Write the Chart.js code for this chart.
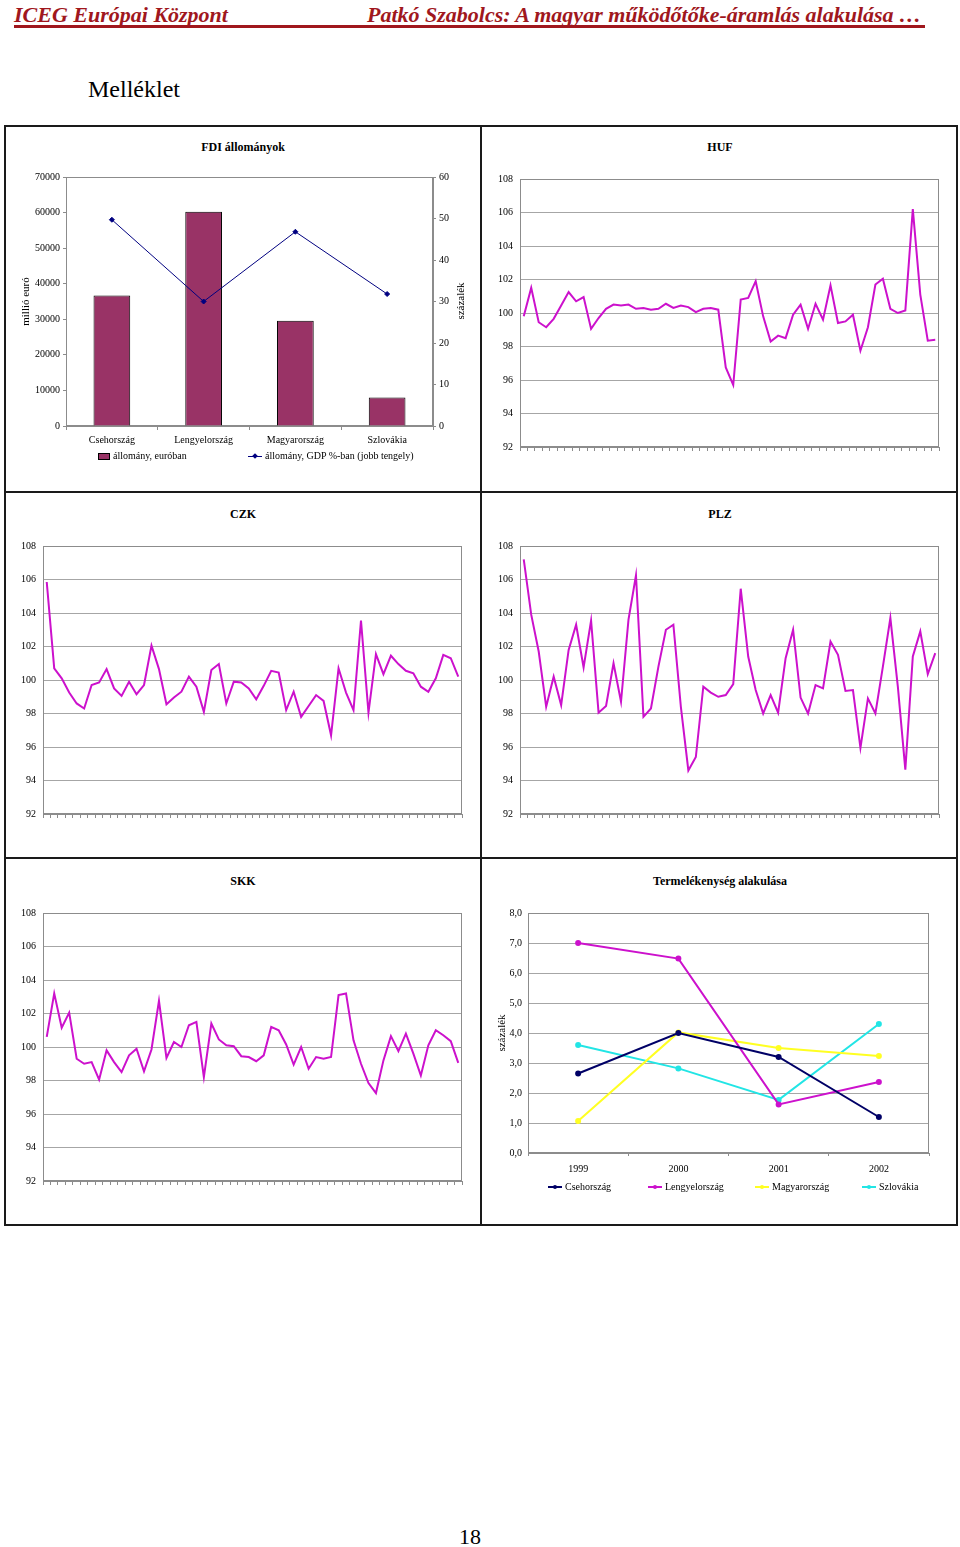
<!DOCTYPE html>
<html lang="hu">
<head>
<meta charset="utf-8">
<title>Melléklet</title>
<script src="https://cdn.jsdelivr.net/npm/chart.js@4.4.1/dist/chart.umd.min.js"></script>
<style>
  body { margin:0; width:960px; height:1547px; position:relative; overflow:hidden; background:#fff;
         font-family:"Liberation Serif", "DejaVu Serif", serif; color:#000; }
  .abs { position:absolute; white-space:nowrap; }
  .fejlec { top:4px; font-size:22px; line-height:22px; font-weight:bold; font-style:italic; color:#a0171d; }
  .fejvonal { left:14px; top:25px; width:911px; height:0; border-bottom:3px solid #a0171d; }
  .keret { left:4px; top:125px; width:954px; height:1101px; box-sizing:border-box; border:2px solid #1a1a1a; }
  .fv { left:480px; top:125px; width:2px; height:1101px; background:#1a1a1a; }
  .vv { left:4px; width:954px; height:2px; background:#1a1a1a; }
  .cim { font-size:12px; line-height:12px; font-weight:bold; width:474px; text-align:center; }
  .tengelycim { font-size:11px; line-height:12px; width:80px; text-align:center; transform:rotate(-90deg); }
  canvas { position:absolute; }
  .jel { font-size:10px; line-height:12px; display:flex; align-items:center; }
  .minta { position:relative; width:14px; height:12px; margin-right:3px; }
  .minta .vonal { position:absolute; left:0; top:5px; width:14px; height:2px; }
  .minta .pont { position:absolute; left:5px; top:4px; width:4px; height:4px; border-radius:2px; }
  .oszlopminta { width:12px; height:7px; border:1px solid #000; margin-right:3px; box-sizing:border-box; }
</style>
</head>
<body>

<div class="abs fejlec" style="left:14px">ICEG Európai Központ</div>
<div class="abs fejlec" style="left:367px">Patkó Szabolcs: A magyar működőtőke-áramlás alakulása …</div>
<div class="abs fejvonal"></div>
<div class="abs" style="left:88px; top:77px; font-size:24px; line-height:24px">Melléklet</div>

<div class="abs keret"></div>
<div class="abs fv"></div>
<div class="abs vv" style="top:491px"></div>
<div class="abs vv" style="top:857px"></div>

<div class="abs cim" style="left:6px; top:141px">FDI állományok</div>
<div class="abs cim" style="left:483px; top:141px">HUF</div>
<div class="abs cim" style="left:6px; top:508px">CZK</div>
<div class="abs cim" style="left:483px; top:508px">PLZ</div>
<div class="abs cim" style="left:6px; top:875px">SKK</div>
<div class="abs cim" style="left:483px; top:875px">Termelékenység alakulása</div>

<canvas id="chartFdi" width="474" height="364" style="left:6px; top:127px"></canvas>
<canvas id="chartHuf" width="474" height="364" style="left:483px; top:127px"></canvas>
<canvas id="chartCzk" width="474" height="364" style="left:6px; top:494px"></canvas>
<canvas id="chartPlz" width="474" height="364" style="left:483px; top:494px"></canvas>
<canvas id="chartSkk" width="474" height="364" style="left:6px; top:861px"></canvas>
<canvas id="chartTerm" width="474" height="364" style="left:483px; top:861px"></canvas>

<!-- jobb tengely címe: alulról felfelé olvasható, mint az eredetiben -->
<div class="abs tengelycim" style="left:420px; top:295px">százalék</div>

<div id="jelFdi"></div>
<div id="jelTerm"></div>

<div class="abs" style="left:459px; top:1526px; font-size:22px; line-height:22px">18</div>

<script>
//Adatok
//FDI állományok
const orszagok = ['Csehország', 'Lengyelország', 'Magyarország', 'Szlovákia'];
const fdiEuro = [36700, 60200, 29600, 8000];
const fdiGdp = [49.7, 30.0, 46.8, 31.8];

//Havi árfolyamindexek (56 hónap)
const honapok = Array.from({ length: 56 }, (_, i) => String(i + 1));
const hufIndex = [99.8, 101.5, 99.45, 99.15, 99.65, 100.45, 101.25, 100.7, 100.95, 99.05,
  99.7, 100.25, 100.5, 100.45, 100.5, 100.25, 100.3, 100.2, 100.25, 100.55,
  100.3, 100.45, 100.35, 100.05, 100.25, 100.3, 100.2, 96.75, 95.7, 100.8,
  100.9, 101.9, 99.8, 98.3, 98.65, 98.5, 99.9, 100.5, 99.05, 100.55,
  99.6, 101.65, 99.4, 99.5, 99.9, 97.75, 99.15, 101.7, 102.05, 100.25,
  100.0, 100.15, 106.2, 101.1, 98.35, 98.4];
const czkIndex = [105.85, 100.7, 100.1, 99.25, 98.6, 98.3, 99.7, 99.85, 100.65, 99.5,
  99.05, 99.9, 99.15, 99.7, 102.05, 100.65, 98.55, 98.95, 99.3, 100.2,
  99.6, 98.1, 100.6, 100.95, 98.6, 99.9, 99.85, 99.5, 98.85, 99.65,
  100.55, 100.45, 98.2, 99.3, 97.8, 98.45, 99.1, 98.75, 96.7, 100.7,
  99.25, 98.2, 103.55, 98.05, 101.55, 100.35, 101.45, 100.95, 100.55, 100.4,
  99.6, 99.3, 100.1, 101.5, 101.3, 100.2];
const plzIndex = [107.2, 103.9, 101.7, 98.4, 100.2, 98.5, 101.8, 103.3, 100.75, 103.55,
  98.05, 98.45, 101.0, 98.7, 103.6, 106.25, 97.8, 98.3, 100.8, 103.0,
  103.3, 98.4, 94.6, 95.4, 99.6, 99.25, 99.0, 99.1, 99.75, 105.45,
  101.4, 99.4, 98.0, 99.1, 98.05, 101.3, 103.0, 98.95, 98.0, 99.7,
  99.5, 102.3, 101.5, 99.35, 99.4, 95.95, 98.9, 98.0, 100.8, 103.7,
  99.6, 94.65, 101.4, 102.9, 100.35, 101.6];
const skkIndex = [100.6, 103.2, 101.15, 102.05, 99.3, 99.0, 99.1, 98.05, 99.8, 99.1,
  98.5, 99.5, 99.9, 98.55, 99.85, 102.75, 99.35, 100.3, 100.0, 101.3,
  101.5, 98.2, 101.4, 100.45, 100.1, 100.05, 99.45, 99.4, 99.15, 99.5,
  101.2, 101.0, 100.15, 98.95, 100.0, 98.7, 99.4, 99.3, 99.4, 103.1,
  103.2, 100.4, 99.0, 97.85, 97.25, 99.2, 100.65, 99.75, 100.8, 99.6,
  98.3, 100.1, 101.0, 100.7, 100.35, 99.05];
const indexTengely = [92, 108, 2];

//Termelékenység alakulása
const evek = ['1999', '2000', '2001', '2002'];
const termCseh = [2.65, 4.0, 3.2, 1.2];
const termLengyel = [7.0, 6.48, 1.62, 2.37];
const termMagyar = [1.07, 4.02, 3.5, 3.23];
const termSzlovak = [3.6, 2.82, 1.77, 4.3];
const termTengely = [0, 8, 1];

//Közös beállítások
const betu = { family: '"Liberation Serif", "DejaVu Serif", serif', size: 10 };
const cimBetu = { family: '"Liberation Serif", "DejaVu Serif", serif', size: 11 };
const racsSzin = '#a6a6a6';
const tengelySzin = '#8c8c8c';
const magenta = '#cc11cc';

//Szürke keret a rajzterület körül
const keret = {
    id: 'keret',
    beforeDatasetsDraw(chart) {
        const a = chart.chartArea;
        const ctx = chart.ctx;
        ctx.save();
        ctx.strokeStyle = tengelySzin;
        ctx.lineWidth = 1;
        ctx.strokeRect(Math.round(a.left) + 0.5, Math.round(a.top) + 0.5,
            Math.round(a.right - a.left) - 1, Math.round(a.bottom - a.top) - 1);
        ctx.restore();
    }
};

//FDI állományok: oszlop + vonal (jobb tengely)
new Chart(document.getElementById('chartFdi'), {
    type: 'bar',
    data: {
        labels: orszagok,
        datasets: [
            {
                type: 'line',
                label: 'állomány, GDP %-ban (jobb tengely)',
                data: fdiGdp,
                yAxisID: 'y1',
                borderColor: '#000080',
                backgroundColor: '#000080',
                borderWidth: 1,
                pointStyle: 'rectRot',
                pointRadius: 2.5,
                tension: 0,
                order: 0
            },
            {
                label: 'állomány, euróban',
                data: fdiEuro,
                yAxisID: 'y',
                backgroundColor: '#993366',
                borderColor: '#000',
                borderWidth: 1,
                barPercentage: 0.4,
                categoryPercentage: 1,
                order: 1
            }
        ]
    },
    options: {
        responsive: false,
        animation: false,
        layout: { padding: { left: 10, right: 10, top: 50, bottom: 45 } },
        plugins: { legend: { display: false }, tooltip: { enabled: false } },
        scales: {
            x: {
                offset: true,
                grid: { offset: true, drawOnChartArea: false, tickLength: 4, color: tengelySzin },
                border: { color: tengelySzin },
                ticks: { font: betu, color: '#000', padding: 4, maxRotation: 0 },
                afterFit: s => { s.height = 20; }
            },
            y: {
                position: 'left',
                min: 0, max: 70000,
                ticks: { stepSize: 10000, font: betu, color: '#000', padding: 3, callback: v => String(v) },
                grid: { drawOnChartArea: false, tickLength: 3, color: tengelySzin },
                border: { color: tengelySzin },
                title: { display: true, text: 'millió euró', font: cimBetu, color: '#000', padding: { top: 4, bottom: 0 } },
                afterFit: s => { s.width = 50; }
            },
            y1: {
                position: 'right',
                min: 0, max: 60,
                ticks: { stepSize: 10, font: betu, color: '#000', padding: 3 },
                grid: { drawOnChartArea: false, tickLength: 3, color: tengelySzin },
                border: { color: tengelySzin },
                afterFit: s => { s.width = 37; }
            }
        }
    },
    plugins: [keret]
});

//Árfolyamindex vonaldiagram
function rajzolIndex(id, adatok) {
    new Chart(document.getElementById(id), {
        type: 'line',
        data: {
            labels: honapok,
            datasets: [{
                data: adatok,
                borderColor: magenta,
                borderWidth: 2,
                pointRadius: 0,
                tension: 0,
                fill: false
            }]
        },
        options: {
            responsive: false,
            animation: false,
            layout: { padding: { left: 0, right: 18, top: 52, bottom: 40 } },
            plugins: { legend: { display: false }, tooltip: { enabled: false } },
            scales: {
                x: {
                    offset: true,
                    grid: { offset: true, drawOnChartArea: false, tickLength: 4, color: tengelySzin },
                    border: { color: tengelySzin },
                    ticks: { display: false },
                    afterFit: s => { s.height = 4; }
                },
                y: {
                    min: indexTengely[0], max: indexTengely[1],
                    ticks: { stepSize: indexTengely[2], font: betu, color: '#000', padding: 7 },
                    grid: { color: racsSzin, drawTicks: false },
                    border: { color: tengelySzin },
                    afterFit: s => { s.width = 37; }
                }
            }
        },
        plugins: [keret]
    });
}

rajzolIndex('chartHuf', hufIndex);
rajzolIndex('chartCzk', czkIndex);
rajzolIndex('chartPlz', plzIndex);
rajzolIndex('chartSkk', skkIndex);

//Termelékenység alakulása
const termSorok = [
    { label: orszagok[0], data: termCseh, szin: '#000066' },
    { label: orszagok[1], data: termLengyel, szin: magenta },
    { label: orszagok[2], data: termMagyar, szin: '#ffff22' },
    { label: orszagok[3], data: termSzlovak, szin: '#22e5e5' }
];

new Chart(document.getElementById('chartTerm'), {
    type: 'line',
    data: {
        labels: evek,
        datasets: termSorok.map(s => ({
            label: s.label,
            data: s.data,
            borderColor: s.szin,
            backgroundColor: s.szin,
            borderWidth: 2,
            pointStyle: 'circle',
            pointRadius: 2,
            tension: 0,
            fill: false
        }))
    },
    options: {
        responsive: false,
        animation: false,
        layout: { padding: { left: 8, right: 28, top: 52, bottom: 47 } },
        plugins: { legend: { display: false }, tooltip: { enabled: false } },
        scales: {
            x: {
                offset: true,
                grid: { offset: true, drawOnChartArea: false, tickLength: 3, color: tengelySzin },
                border: { color: tengelySzin },
                ticks: { font: betu, color: '#000', padding: 7, maxRotation: 0 },
                afterFit: s => { s.height = 25; }
            },
            y: {
                min: termTengely[0], max: termTengely[1],
                ticks: { stepSize: termTengely[2], font: betu, color: '#000', padding: 6,
                         callback: v => v.toFixed(1).replace('.', ',') },
                grid: { color: racsSzin, drawTicks: false },
                border: { color: tengelySzin },
                title: { display: true, text: 'százalék', font: cimBetu, color: '#000', padding: { top: 5, bottom: 0 } },
                afterFit: s => { s.width = 37; }
            }
        }
    },
    plugins: [keret]
});

//Jelmagyarázatok (HTML)
function vonalJel(szoveg, szin, bal, fent, rombusz) {
    const jel = document.createElement('div');
    jel.className = 'abs jel';
    jel.style.left = bal + 'px';
    jel.style.top = fent + 'px';
    const minta = document.createElement('div');
    minta.className = 'minta';
    minta.innerHTML = '<div class="vonal" style="background:' + szin + (rombusz ? ';height:1px;top:6px' : '') + '"></div>' +
        '<div class="pont" style="background:' + szin + (rombusz ? ';border-radius:0;transform:rotate(45deg)' : '') + '"></div>';
    jel.appendChild(minta);
    jel.appendChild(document.createTextNode(szoveg));
    return jel;
}

const jelFdi = document.getElementById('jelFdi');
const oszlopJel = document.createElement('div');
oszlopJel.className = 'abs jel';
oszlopJel.style.left = '98px';
oszlopJel.style.top = '450px';
oszlopJel.innerHTML = '<div class="oszlopminta" style="background:#993366"></div>állomány, euróban';
jelFdi.appendChild(oszlopJel);
jelFdi.appendChild(vonalJel('állomány, GDP %-ban (jobb tengely)', '#000080', 248, 450, true));

const jelTerm = document.getElementById('jelTerm');
const termJelHely = [548, 648, 755, 862];
termSorok.forEach((s, i) => {
    jelTerm.appendChild(vonalJel(s.label, s.szin, termJelHely[i], 1181, false));
});
</script>
</body>
</html>
